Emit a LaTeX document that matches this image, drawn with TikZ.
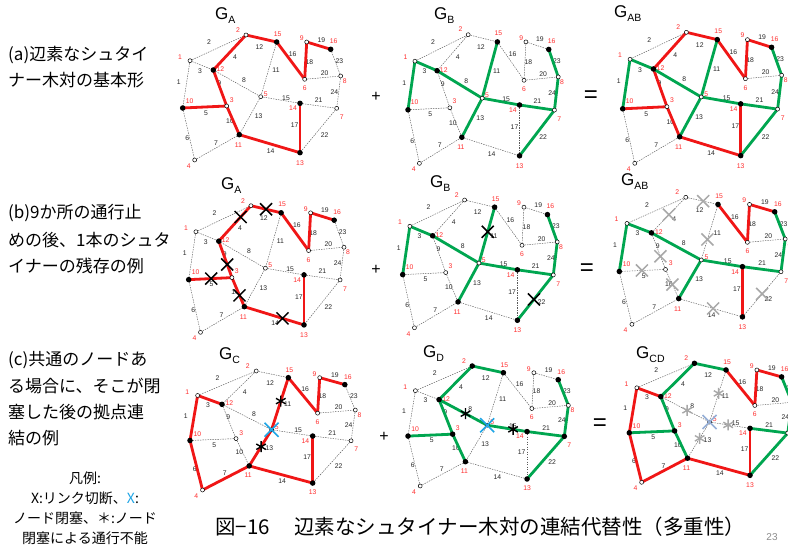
\documentclass[tikz,border=0pt]{standalone}
\usepackage{fontspec}
\setmainfont{Liberation Sans}
\newfontfamily\jp{Noto Sans CJK JP}
\usetikzlibrary{calc}
\definecolor{tred}{RGB}{240,22,22}
\definecolor{tgreen}{RGB}{0,166,80}
\definecolor{lred}{RGB}{255,45,45}
\definecolor{xblue}{RGB}{30,165,230}
\definecolor{pblue}{RGB}{150,175,215}
\definecolor{xgrey}{RGB}{168,168,168}
\tikzset{
 dline/.style={black!65, line width=0.45pt, dash pattern=on 1.4pt off 1.1pt},
 redt/.style={tred, line width=2.8pt, line cap=round, line join=round},
 grnt/.style={tgreen, line width=2.8pt, line cap=round},
 vopen/.style={circle, draw=black, fill=white, line width=0.5pt, inner sep=0pt, minimum size=4pt},
 vfill/.style={circle, fill=black, inner sep=0pt, minimum size=5.5pt},
 nlab/.style={text=lred, font=\fontsize{6.8}{7}\selectfont, inner sep=0pt},
 elab/.style={text=black!85, font=\fontsize{6.8}{7}\selectfont, inner sep=0pt},
 gtitle/.style={anchor=west, inner sep=0pt},
 jtext/.style={anchor=west, inner sep=0pt, font=\jp\fontsize{17}{17}\selectfont},
 legtext/.style={inner sep=0pt, font=\jp\fontsize{14}{14}\selectfont},
 opsym/.style={inner sep=0pt}
}
\def\nodedata{1/7.3/25.7/-10/-4, 2/63.3/0/-8/-5, 3/44/71/5/-6, 4/12/125/-6/6, 5/78/61.7/5/-3, 6/122/44.3/0/9, 7/154/73.3/5/9, 8/158/41/4/5, 9/124/7/-5/-4, 10/0/73/7/-7, 11/56.6/99.7/-1/10, 12/30.6/35/7/-1, 13/117.3/117.7/0/10, 14/117.3/68.3/-7/5, 15/94/7/1/-8, 16/148/14.3/3/-8}
\def\edgedata{1/1/10/-4/47, 2/1/2/26.3/7.3, 3/1/12/17.3/35.7, 4/2/12/52.3/21.7, 5/10/3/23.3/77.7, 6/10/4/4.6/103, 7/4/11/33.3/107.7, 8/12/5/61.3/45, 9/12/3/36.6/48.3, 10/3/11/47.3/85.7, 11/15/5/93.3/35, 12/2/15/76.6/12.3, 13/5/11/76/81, 14/11/13/88/115.7, 15/5/14/103.3/62.7, 16/15/6/110/19.3, 17/14/13/112/90, 18/9/6/126.6/26.7, 19/9/16/138.6/4.7, 20/6/8/142/38.3, 21/14/7/136/65, 22/7/13/142/100, 23/16/8/156.6/26, 24/8/7/151.6/56.7}
\newcommand\placegraph[5]{%
 \begin{scope}[shift={(#2,#3)},xscale=#4,yscale=#5]
  \foreach \i/\x/\y/\dx/\dy in \nodedata {\coordinate (#1\i) at (\x,\y);}
  \foreach \l/\a/\b/\lx/\ly in \edgedata {\draw[dline] (#1\a) -- (#1\b); \node[elab] at (\lx,\ly) {\l};}
  \foreach \i/\x/\y/\dx/\dy in \nodedata {\node[nlab] at (\x+\dx,\y+\dy) {\i};}
 \end{scope}}
\newcommand\ced[3]{\edef\tmplist{#3}\foreach \a/\b in \tmplist {\draw[#2] (#1\a) -- (#1\b);}}
\newcommand\verts[2]{\foreach \i in {1,...,16} {\node[vopen] at (#1\i) {};}
 \foreach \i in {#2} {\node[vfill] at (#1\i) {};}}
\newcommand\xm[5][black]{\coordinate (xmtmp) at ($(#2#3)!#5!(#2#4)$);
 \draw[#1, line width=1.5pt] (xmtmp) +(-6,-6) -- +(6,6) +(6,-6) -- +(-6,6);}
\newcommand\astmk[5][black]{\coordinate (xmtmp) at ($(#2#3)!#5!(#2#4)$);
 \draw[#1, line width=1.4pt] (xmtmp) +(0,-5.5) -- +(0,5.5) +(4.8,-2.75) -- +(-4.8,2.75) +(4.8,2.75) -- +(-4.8,-2.75);}
\newcommand\nx[2][xblue]{\draw[#1, line width=1.6pt] (#2) +(-7,-7) -- +(7,7) +(7,-7) -- +(-7,7);}
\newcommand\gt[3]{\node[gtitle] at (#1) {\fontsize{17}{17}\selectfont G\raisebox{-4pt}{\fontsize{10.5}{10.5}\selectfont #3}};}
\def\Ared{2/12, 2/15, 15/6, 6/9, 9/16, 12/3, 10/3, 3/11, 11/13, 13/14}
\def\Bgrn{1/10, 1/12, 12/5, 5/15, 5/11, 5/14, 14/7, 7/13, 7/8, 8/16}
\begin{document}
\begin{tikzpicture}[x=1pt,y=-1pt]
\useasboundingbox (0,0) rectangle (788,546);
\clip (0,0) rectangle (788,546);
\fill[white] (0,0) rectangle (788,546);
% ---------- left texts
\node[jtext] (ta1) at (8,55) {(a)辺素なシュタイ};
\node[jtext] (ta2) at (8,80) {ナー木対の基本形};
\node[jtext] (tb1) at (8,213) {(b)9か所の通行止};
\node[jtext] (tb2) at (8,240) {めの後、1本のシュタ};
\node[jtext] (tb3) at (8,266) {イナーの残存の例};
\node[jtext] (tc1) at (8,360) {(c)共通のノードあ};
\node[jtext] (tc2) at (8,386) {る場合に、そこが閉};
\node[jtext] (tc3) at (8,412) {塞した後の拠点連};
\node[jtext] (tc4) at (8,438) {結の例};
\node[legtext] (l1) at (85,478) {凡例:};
\node[legtext] (l2) at (85,498) {X:リンク切断、\textcolor{xblue}{X}:};
\node[legtext] (l3) at (85,518) {ノード閉塞、＊:ノード};
\node[legtext] (l4) at (85,538) {閉塞による通行不能};
\node[anchor=west, inner sep=0pt, font=\jp\fontsize{20.5}{20.5}\selectfont] (cap) at (215,527) {図−16\hspace{1.2em}辺素なシュタイナー木対の連結代替性（多重性）};
\node[inner sep=0pt, text=black!45, font=\fontsize{10}{10}\selectfont] (pg) at (772,537) {23};
% ---------- operators
\node[opsym, font=\fontsize{16}{16}\selectfont] (p1) at (376,97) {+};
\node[opsym, font=\fontsize{16}{16}\selectfont] (p2) at (376,270) {+};
\node[opsym, font=\fontsize{16}{16}\selectfont] (p3) at (384,437) {+};
\node[opsym, font=\fontsize{24}{24}\selectfont] (q1) at (591,97) {=};
\node[opsym, font=\fontsize{24}{24}\selectfont] (q2) at (587,270) {=};
\node[opsym, font=\fontsize{24}{24}\selectfont] (q3) at (600,425) {=};
% ---------- row a
\placegraph{A}{182.7}{35}{1}{1}
\ced{A}{redt}{\Ared}
\verts{A}{10,11,12,13,14,15,16}
\gt{215,16}{A}{A}
\placegraph{B}{408}{34.7}{0.951}{1.029}
\ced{B}{grnt}{\Bgrn}
\verts{B}{10,11,12,13,14,15,16}
\gt{434,16}{B}{B}
\placegraph{AB}{622.7}{32.3}{1.006}{1.048}
\ced{AB}{redt}{\Ared}
\ced{AB}{grnt}{\Bgrn}
\verts{AB}{10,11,12,13,14,15,16}
\gt{614,14}{AB}{AB}
% ---------- row b
\placegraph{Ab}{188.7}{205.7}{0.983}{1.013}
\ced{Ab}{redt}{\Ared}
\verts{Ab}{10,11,12,13,14,15,16}
\xm{Ab}{2}{12}{0.32}
\xm{Ab}{2}{15}{0.5}
\xm{Ab}{12}{3}{0.64}
\xm{Ab}{10}{3}{0.52}
\xm{Ab}{3}{11}{0.61}
\xm{Ab}{11}{13}{0.64}
\gt{221,186}{Ab}{A}
\placegraph{Bb}{402.7}{200}{0.978}{1.022}
\ced{Bb}{grnt}{\Bgrn}
\verts{Bb}{10,11,12,13,14,15,16}
\xm{Bb}{15}{5}{0.44}
\xm{Bb}{7}{13}{0.54}
\gt{430,184}{Bb}{B}
\placegraph{ABb}{619.3}{197.3}{1.05}{1.016}
\ced{ABb}{redt}{15/6, 6/9, 9/16, 14/13}
\ced{ABb}{grnt}{1/10, 1/12, 12/5, 5/11, 5/14, 14/7, 7/8, 8/16}
\verts{ABb}{10,11,12,13,14,15,16}
\xm[xgrey]{ABb}{2}{15}{0.54}
\xm[xgrey]{ABb}{2}{12}{0.49}
\xm[xgrey]{ABb}{15}{5}{0.63}
\xm[xgrey]{ABb}{12}{3}{0.64}
\xm[xgrey]{ABb}{10}{3}{0.49}
\xm[xgrey]{ABb}{3}{11}{0.52}
\xm[xgrey]{ABb}{11}{13}{0.54}
\xm[xgrey]{ABb}{7}{13}{0.49}
\gt{621,182}{ABb}{AB}
% ---------- row c
\placegraph{C}{190}{371}{1.046}{0.952}
\ced{C}{redt}{1/12, 1/10, 10/4, 4/11, 11/13, 13/14, 11/5, 5/15, 15/6, 6/9, 9/16}
\verts{C}{10,11,12,13,14,15,16}
\nx{C5}
\astmk{C}{15}{5}{0.45}
\astmk{C}{5}{11}{0.47}
\gt{219,356}{C}{C}
\placegraph{D}{408}{366}{1.015}{0.96}
\ced{D}{grnt}{2/12, 2/15, 12/3, 10/3, 3/11, 12/5, 5/14, 14/7, 7/13, 7/8, 8/16}
\verts{D}{2,3,7,10,11,12,13,14,15,16}
\nx{D5}
\astmk{D}{12}{5}{0.55}
\astmk{D}{5}{14}{0.65}
\gt{423,354}{D}{D}
\placegraph{CD}{629.3}{363.3}{1.029}{0.952}
\ced{CD}{redt}{1/12, 1/10, 10/4, 4/11, 11/13, 13/14, 15/6, 6/9, 9/16}
\ced{CD}{grnt}{2/12, 2/15, 12/3, 10/3, 3/11, 14/7, 7/13, 7/8, 8/16}
\verts{CD}{2,3,10,11,12,13,14,15,16}
\nx[pblue]{CD5}
\astmk[xgrey]{CD}{12}{5}{0.54}
\astmk[xgrey]{CD}{15}{5}{0.45}
\astmk[xgrey]{CD}{5}{11}{0.45}
\astmk[xgrey]{CD}{5}{14}{0.46}
\gt{636,355}{CD}{CD}
\end{tikzpicture}
\end{document}
